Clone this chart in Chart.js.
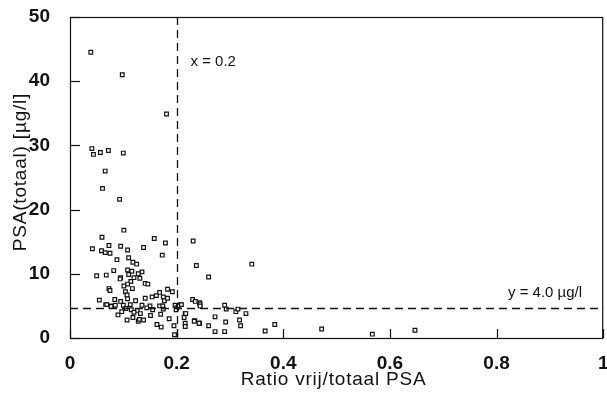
<!DOCTYPE html>
<html>
<head>
<meta charset="utf-8">
<script src="https://cdn.jsdelivr.net/npm/chart.js@4"></script>
<style>
  html, body { margin: 0; padding: 0; background: #fff; }
  #wrap { width: 607px; height: 393px; }
</style>
</head>
<body>
<div id="wrap"><canvas id="psaChart"></canvas></div>
<script>
// ratio vrij/totaal PSA per patient
const ratioValues = [
  0.039, 0.098, 0.181, 0.041, 0.044, 0.057, 0.072, 0.100, 0.066, 0.061,
  0.093, 0.101, 0.060, 0.158, 0.179, 0.231, 0.073, 0.095, 0.042, 0.059,
  0.066, 0.075, 0.108, 0.138, 0.173, 0.088, 0.110, 0.118, 0.125, 0.237,
  0.108, 0.082, 0.116, 0.135, 0.050, 0.068, 0.095, 0.094, 0.110, 0.128,
  0.120, 0.114, 0.131, 0.141, 0.146, 0.260, 0.341, 0.073, 0.075, 0.101,
  0.108, 0.117, 0.104, 0.183, 0.192, 0.168, 0.162, 0.107, 0.123, 0.108,
  0.084, 0.055, 0.141, 0.154, 0.175, 0.177, 0.183, 0.230, 0.235, 0.243,
  0.095, 0.067, 0.078, 0.085, 0.100, 0.113, 0.135, 0.150, 0.168, 0.174,
  0.197, 0.207, 0.200, 0.199, 0.105, 0.115, 0.126, 0.144, 0.155, 0.175,
  0.097, 0.120, 0.132, 0.216, 0.090, 0.118, 0.151, 0.170, 0.214, 0.186,
  0.107, 0.128, 0.138, 0.130, 0.234, 0.243, 0.163, 0.171, 0.216, 0.216,
  0.196, 0.260, 0.244, 0.244, 0.203, 0.209, 0.290, 0.293, 0.311, 0.315,
  0.330, 0.217, 0.272, 0.233, 0.242, 0.195, 0.292, 0.318, 0.320, 0.272,
  0.290, 0.366, 0.384, 0.472, 0.567, 0.647, 0.069, 0.077
];
// PSA (totaal) in µg/l, same order
const psaValues = [
  44.5, 41.0, 34.9, 29.5, 28.6, 28.9, 29.2, 28.8, 26.0, 23.3,
  21.6, 16.8, 15.7, 15.5, 14.8, 15.1, 14.4, 14.3, 13.9, 13.6,
  13.3, 13.2, 13.7, 14.1, 12.9, 12.2, 12.5, 11.8, 11.5, 11.3,
  10.6, 10.5, 10.4, 10.3, 9.7, 9.8, 9.4, 9.2, 9.9, 10.0,
  9.4, 8.8, 9.3, 8.5, 8.4, 9.5, 11.5, 7.7, 7.4, 8.1,
  8.4, 7.7, 7.2, 7.6, 7.2, 7.1, 6.6, 6.7, 5.8, 6.1,
  6.0, 5.9, 6.2, 6.4, 6.4, 5.8, 6.2, 6.0, 5.7, 5.5,
  5.7, 5.2, 5.0, 5.1, 5.1, 5.2, 5.1, 5.0, 5.0, 5.0,
  5.1, 5.2, 4.7, 4.4, 4.6, 4.4, 4.3, 4.7, 4.4, 4.5,
  4.1, 4.0, 3.8, 3.8, 3.6, 3.2, 3.5, 3.7, 3.2, 3.0,
  2.8, 2.6, 2.8, 2.9, 2.7, 2.3, 2.1, 1.7, 2.3, 1.8,
  0.5, 1.9, 5.3, 5.0, 5.0, 5.2, 5.1, 4.5, 4.1, 4.5,
  3.8, 3.8, 3.3, 2.6, 2.3, 1.9, 2.5, 2.8, 1.9, 1.0,
  1.0, 1.1, 2.1, 1.4, 0.6, 1.2, 5.2, 4.9
];
const xTicks = [0, 0.2, 0.4, 0.6, 0.8, 1];
const yTicks = [0, 10, 20, 30, 40, 50];
const cutoffX = 0.2;
const cutoffY = 4.7;
const xTitle = 'Ratio vrij/totaal PSA';
const yTitle = 'PSA(totaal) [\u00b5g/l]';

const points = ratioValues.map((r, i) => ({ x: r, y: psaValues[i] }));
const FONT = '"Liberation Sans", Arial, sans-serif';

// dashed cut-off lines, inward ticks, frame, titles and the two labels
const overlay = {
  id: 'overlay',
  afterDatasetsDraw(chart) {
    const ctx = chart.ctx;
    const xs = chart.scales.x, ys = chart.scales.y;
    const a = chart.chartArea;
    ctx.save();
    ctx.strokeStyle = '#111';
    ctx.lineWidth = 1.3;
    ctx.setLineDash([8, 5]);
    let px = Math.round(xs.getPixelForValue(cutoffX)) + 0.5;
    ctx.beginPath(); ctx.moveTo(px, a.top); ctx.lineTo(px, a.bottom); ctx.stroke();
    let py = Math.round(ys.getPixelForValue(cutoffY)) + 0.5;
    ctx.beginPath(); ctx.moveTo(a.left, py); ctx.lineTo(a.right, py); ctx.stroke();
    ctx.setLineDash([]);
    ctx.lineWidth = 1.2;
    ctx.strokeRect(a.left + 0.5, a.top + 0.5, a.right - a.left - 1, a.bottom - a.top);
    xTicks.forEach(v => {
      const x = Math.round(xs.getPixelForValue(v)) + 0.5;
      ctx.beginPath(); ctx.moveTo(x, a.bottom); ctx.lineTo(x, a.bottom - 9); ctx.stroke();
    });
    yTicks.forEach(v => {
      const y = Math.round(ys.getPixelForValue(v)) + 0.5;
      ctx.beginPath(); ctx.moveTo(a.left, y); ctx.lineTo(a.left + 10, y); ctx.stroke();
    });
    ctx.fillStyle = '#111';
    ctx.font = '15px ' + FONT;
    ctx.textBaseline = 'middle';
    ctx.textAlign = 'left';
    ctx.fillText('x = 0.2', px + 13, ys.getPixelForValue(43));
    ctx.fillText('y = 4.0 \u00b5g/l', 508, ys.getPixelForValue(7.1));

    ctx.font = '19px ' + FONT;
    ctx.letterSpacing = '0.8px';
    ctx.textAlign = 'center';
    ctx.fillText(xTitle, (a.left + a.right) / 2 - 3, 380);
    ctx.translate(21, 172);
    ctx.rotate(-Math.PI / 2);
    ctx.fillText(yTitle, 0, 0);
    ctx.restore();
  }
};

new Chart(document.getElementById('psaChart'), {
  type: 'scatter',
  data: {
    datasets: [{
      data: points,
      pointStyle: 'rect',
      pointRadius: 2.6,
      pointHoverRadius: 2.6,
      borderWidth: 1.2,
      borderColor: '#111',
      backgroundColor: '#fff'
    }]
  },
  options: {
    responsive: true,
    maintainAspectRatio: false,
    animation: false,
    layout: { padding: { top: 17, right: 2, left: 0, bottom: 0 } },
    plugins: { legend: { display: false }, tooltip: { enabled: false } },
    scales: {
      x: {
        type: 'linear',
        min: 0, max: 1,
        afterBuildTicks: s => { s.ticks = xTicks.map(v => ({ value: v })); },
        afterFit: s => { s.height = 55; s.paddingLeft = 0; s.paddingRight = 0; },
        grid: { display: false },
        border: { display: false },
        ticks: {
          color: '#111',
          padding: 6,
          maxRotation: 0,
          font: { family: FONT, size: 19, weight: 'bold' },
          callback: v => String(v)
        }
      },
      y: {
        type: 'linear',
        min: 0, max: 50,
        afterBuildTicks: s => { s.ticks = yTicks.map(v => ({ value: v })); },
        afterFit: s => { s.width = 70; s.paddingTop = 0; s.paddingBottom = 0; },
        grid: { display: false },
        border: { display: false },
        ticks: {
          color: '#111',
          padding: 12,
          font: { family: FONT, size: 19, weight: 'bold' }
        }
      }
    }
  },
  plugins: [overlay]
});
</script>
</body>
</html>
